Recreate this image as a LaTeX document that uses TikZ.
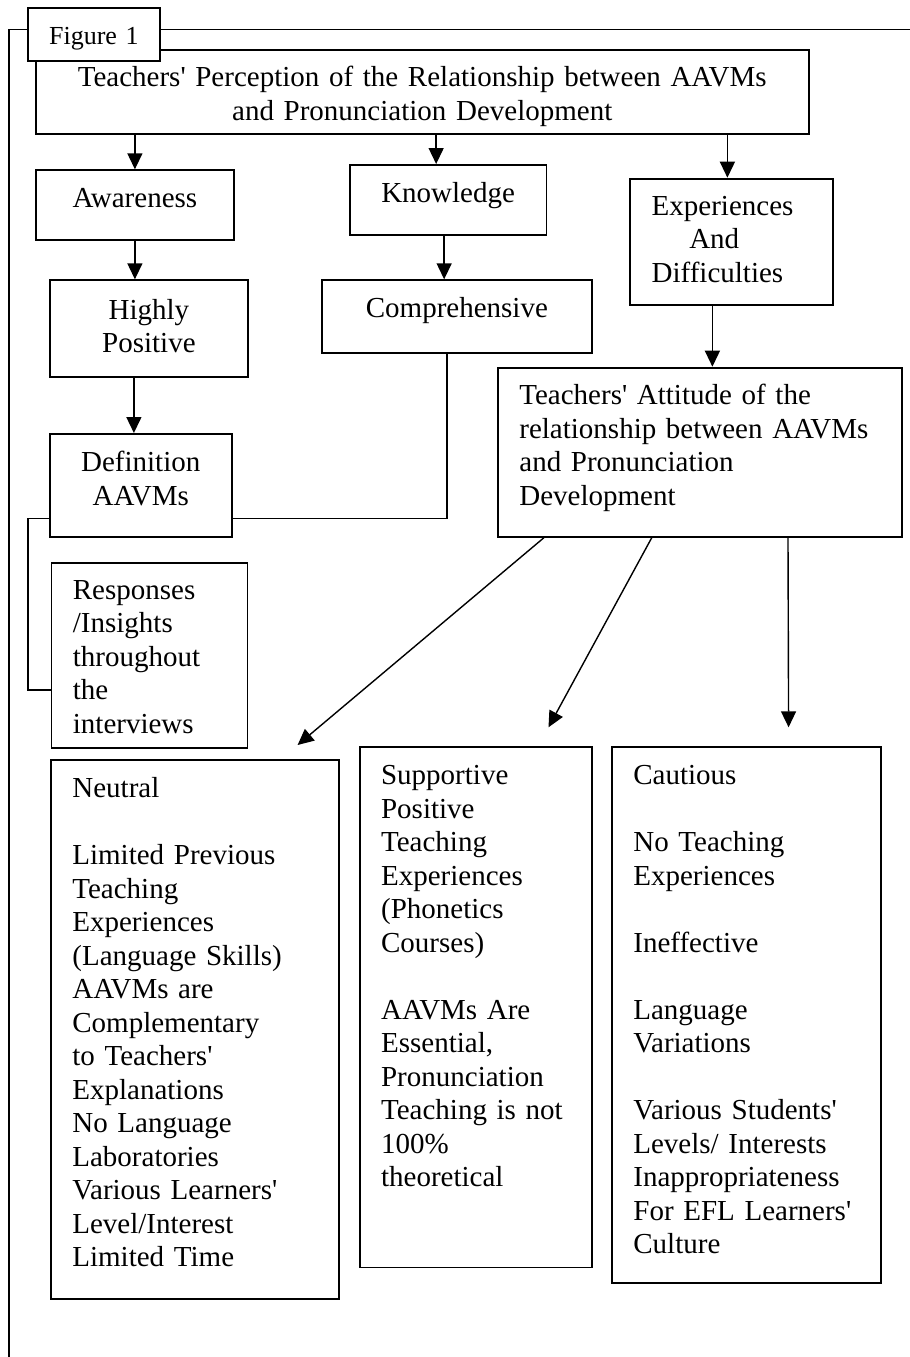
\documentclass[tikz,border=0pt]{standalone}
\usepackage{fontspec}
\setmainfont{Liberation Serif}[Ligatures=TeXOff]
\usepackage{tikz}
\usetikzlibrary{arrows.meta}

\newcommand{\boxfont}{\fontsize{14.5pt}{16.75pt}\selectfont}
\newcommand{\figfont}{\fontsize{13pt}{15pt}\selectfont}

\begin{document}
\begin{tikzpicture}[
        x=0.5pt, y=-0.5pt,
        textbox/.style={draw=black, fill=white, line width=0.9pt, anchor=north west,
            inner xsep=10.75pt, inner ysep=0pt, font=\boxfont},
        cbox/.style={textbox, align=center},
        lbox/.style={textbox, align=left},
        conn/.style={-{Triangle[length=8pt, width=7.5pt]}, line width=0.7pt},
        link/.style={line width=0.7pt},
    ]

    \useasboundingbox (0,0) rectangle (910,1357);

    % Outer frame
    \coordinate (FB) at (9,1357);
    \coordinate (FR) at (910,29.3);
    \draw[link] (FB) |- (FR);

    % Title and figure label
    \node[cbox, text width=365.15pt, text height=18.5pt, text depth=23.35pt]
        (TITLE) at (34.7,49)
        {Teachers' Perception of the Relationship between AAVMs\\and Pronunciation Development};
    \node[lbox, font=\figfont, text width=44.8pt, text height=18pt, text depth=8.35pt]
        (FIG) at (26.7,7.3) {Figure 1};

    % Upper boxes
    \node[cbox, text width=77.8pt, text height=18.7pt, text depth=16.3pt]
        (AW) at (34.7,169.3) {Awareness};
    \node[cbox, text width=76.75pt, text height=19pt, text depth=16.15pt]
        (KN) at (349,164) {Knowledge};
    \node[lbox, text width=79.7pt, text height=18.4pt, text depth=44.9pt]
        (EX) at (629.3,177.7) {Experiences\\\hspace*{18.8pt}And\\Difficulties};

    \node[cbox, text width=77.5pt, text height=19.4pt, text depth=28.8pt]
        (HP) at (49,279.3) {Highly\\Positive};
    \node[cbox, text width=113.5pt, text height=18.85pt, text depth=17.35pt]
        (CO) at (321,279.3) {Comprehensive};
    \node[cbox, text width=69.65pt, text height=18.85pt, text depth=32.5pt]
        (DEF) at (48.7,433) {Definition\\AAVMs};
    \node[lbox, text width=180.65pt, text height=18.65pt, text depth=66pt]
        (ATT) at (497,366.7)
        {Teachers' Attitude of the\\relationship between AAVMs\\and Pronunciation\\Development};
    \node[lbox, text width=76.55pt, text height=18.3pt, text depth=74.2pt]
        (RES) at (50.5,561.7) {Responses\\/Insights\\throughout\\the\\interviews};

    % Lower boxes
    \node[lbox, text width=122.4pt, text height=19pt, text depth=250.5pt]
        (NEU) at (50,759)
        {Neutral\\[16.75pt]Limited Previous\\Teaching\\Experiences\\(Language Skills)\\AAVMs are\\Complementary\\to Teachers'\\Explanations\\No Language\\Laboratories\\Various Learners'\\Level/Interest\\Limited Time};
    \node[lbox, text width=94.85pt, text height=19pt, text depth=241.3pt]
        (SUP) at (358.7,746)
        {Supportive\\Positive\\Teaching\\Experiences\\(Phonetics\\Courses)\\[16.75pt]AAVMs Are\\Essential,\\Pronunciation\\Teaching is not\\100\%\\theoretical};
    \node[lbox, text width=113.2pt, text height=19pt, text depth=249.15pt]
        (CAU) at (611,746)
        {Cautious\\[16.75pt]No Teaching\\Experiences\\[16.75pt]Ineffective\\[16.75pt]Language\\Variations\\[16.75pt]Various Students'\\Levels/ Interests\\Inappropriateness\\For EFL Learners'\\Culture};

    % Arrows
    \draw[conn] (AW.north |- TITLE.south) -- (AW.north);
    \draw[conn] ([xshift=-6pt]KN.north |- TITLE.south) -- ([xshift=-6pt]KN.north);
    \draw[conn] ([xshift=-2pt]EX.north |- TITLE.south) -- ([xshift=-2pt]EX.north);
    \draw[conn] (AW.south) -- (AW.south |- HP.north);
    \draw[conn] ([xshift=-2pt]KN.south) -- ([xshift=-2pt]KN.south |- CO.north);
    \draw[conn] ([xshift=-7.5pt]HP.south) -- ([xshift=-7.5pt]HP.south |- DEF.north);
    \draw[conn] ([xshift=-9.5pt]EX.south) -- ([xshift=-9.5pt]EX.south |- ATT.north);

    \draw[conn] ([xshift=23.4pt]ATT.south west) -- ([shift={(-21pt,7pt)}]NEU.north east);
    \draw[conn] ([xshift=77.35pt]ATT.south west) -- ([shift={(-22.35pt,9.35pt)}]SUP.north east);
    \draw[conn] ([xshift=145.5pt]ATT.south west) -- ([shift={(21pt,9.35pt)}]CAU.north);

    % Plain links
    \draw[link] ([xshift=-5pt]CO.south) |- ([yshift=-16.5pt]DEF.east);
    \draw[link] ([yshift=-16.5pt]DEF.west) -- ++(-10.4pt,0) |- ([yshift=-17.4pt]RES.west);
\end{tikzpicture}
\end{document}
